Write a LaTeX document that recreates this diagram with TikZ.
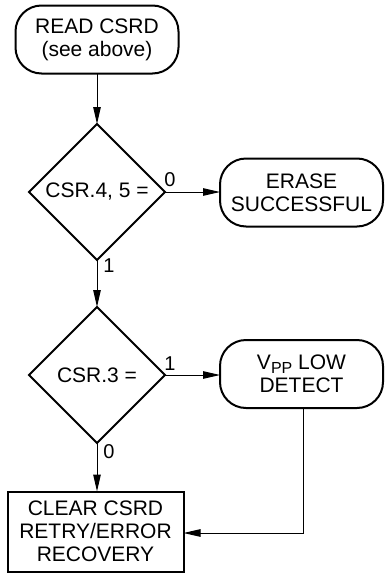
\documentclass[tikz,border=0pt]{standalone}
\usepackage{fontspec}
\setmainfont{Liberation Sans}
\usetikzlibrary{shapes.geometric,arrows.meta}
\begin{document}
\begin{tikzpicture}[x=1pt,y=-1pt,
  txt/.style={font=\fontsize{21}{23}\selectfont, align=center, inner sep=0pt, outer sep=0pt},
  term/.style={txt, draw, line width=2pt, rounded corners=26pt, minimum width=163pt, minimum height=68pt},
  proc/.style={txt, draw, line width=2pt, minimum width=176pt, minimum height=80pt},
  dec/.style={txt, draw, line width=2pt, diamond, minimum width=136pt, minimum height=136pt},
  arr/.style={line width=1pt, -{Triangle[length=17pt,width=7.5pt]}},
  lbl/.style={font=\fontsize{20}{20}\selectfont, inner sep=0pt}]
\useasboundingbox (0,0) rectangle (384,573);
\node[term] (read) at (97,39.5) {READ CSRD\\(see above)};
\node[dec] (d1) at (97,192) {CSR.4, 5 =};
\node[term] (erase) at (301.5,192.5) {ERASE\\SUCCESSFUL};
\node[dec] (d2) at (97,375) {CSR.3 =};
\node[term] (vpp) at (301.5,374) {V\raisebox{-0.2em}{\fontsize{16}{16}\selectfont PP} LOW\\DETECT};
\node[proc] (clear) at (95.5,531.5) {CLEAR CSRD\\RETRY/ERROR\\RECOVERY};
\coordinate (bend) at (303,533);
\draw[arr] (read.south) -- (d1.north);
\draw[arr] (d1.east) -- (erase.west |- d1.east);
\draw[arr] (d1.south) -- (d2.north);
\draw[arr] (d2.east) -- (vpp.west |- d2.east);
\draw[arr] (d2.south) -- (d2.south |- clear.north);
\draw[arr] (vpp.south -| bend) -- (bend) -- (bend -| clear.east);
\node[lbl] (l1) at (170,180) {0};
\node[lbl] (l2) at (109,266) {1};
\node[lbl] (l3) at (170,364) {1};
\node[lbl] (l4) at (109,452) {0};
\end{tikzpicture}
\end{document}
